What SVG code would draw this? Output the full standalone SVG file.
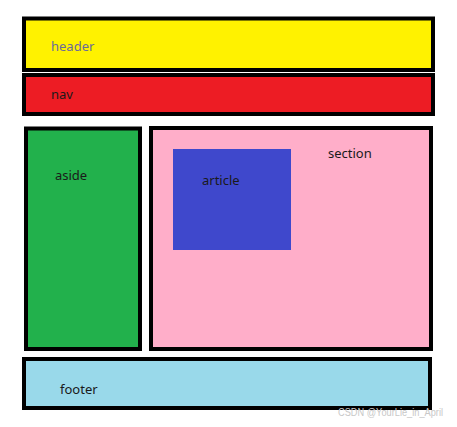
<svg xmlns="http://www.w3.org/2000/svg" width="457" height="427" viewBox="0 0 457 427">
<style>
.box{stroke:#000;stroke-width:4}
.lbl{font-family:"Noto Sans","Liberation Sans",sans-serif;font-size:13px;fill:#1a1a1a}
.wm{font-family:"Liberation Sans",sans-serif;font-size:10px;fill:#c8c8c8}
</style>
<rect width="457" height="427" fill="#fff"/>
<g id="header"><rect class="box" x="24" y="18.5" width="409" height="51.5" fill="#FFF200"/><text class="lbl" x="51" y="50.5" style="fill:#6b6b9a">header</text></g>
<g id="nav"><rect class="box" x="24" y="75" width="409" height="39" fill="#ED1C24"/><text class="lbl" x="51" y="99">nav</text></g>
<g id="aside"><rect class="box" x="26" y="128.5" width="114" height="220.5" fill="#22B14C"/><text class="lbl" x="55" y="180">aside</text></g>
<g id="section"><rect class="box" x="151" y="128" width="280" height="221" fill="#FFAEC9"/><text class="lbl" x="328" y="158">section</text></g>
<g id="article"><rect x="173" y="149" width="118" height="101" fill="#3F48CC"/><text class="lbl" x="202" y="185">article</text></g>
<g id="footer"><rect class="box" x="24" y="359" width="406" height="49" fill="#99D9EA"/><text class="lbl" x="60" y="394">footer</text></g>
<g id="connectors"/>
<text class="wm" x="338" y="416" textLength="105" lengthAdjust="spacingAndGlyphs">CSDN @YourLie_in_April</text>
</svg>
